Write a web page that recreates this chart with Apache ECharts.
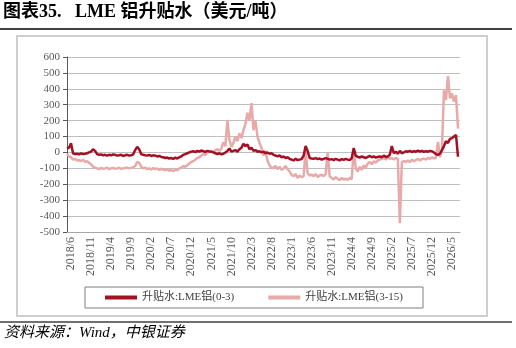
<!DOCTYPE html>
<html>
<head>
<meta charset="utf-8">
<script src="https://cdn.jsdelivr.net/npm/echarts@6/dist/echarts.min.js"></script>
<style>
  html, body { margin: 0; padding: 0; background: #fff; }
  #chart { width: 516px; height: 348px; }
</style>
</head>
<body>
<div id="chart"></div>
<script>
// half-month categories, 2018/5/1 .. 2026/7/1
var dates = [];
for (var y = 2018, m = 5; y < 2026 || m <= 6; ) {
  dates.push(y + '/' + m + '/1');
  dates.push(y + '/' + m + '/16');
  m++;
  if (m > 12) { m = 1; y++; }
}
dates.push('2026/7/1');

var yTicks = [-500, 600, 100]; // min, max, interval

// 升贴水:LME铝(0-3)
var spread03 = [
  25, 30, 58, -5, -10, -8, -12, -6, -10, -8, -5, 0,
  5, 20, 10, -10, -15, -12, -18, -15, -20, -15, -18, -12,
  -15, -20, -18, -15, -22, -18, -15, -20, -18, -12, 15, 35,
  20, -10, -15, -18, -20, -15, -22, -18, -20, -25, -22, -28,
  -30, -35, -32, -38, -35, -40, -33, -38, -30, -25, -15, -10,
  -5, 0, 5, 8, 2, 10, 5, 12, 8, 3, 10, 6,
  5, 0, -5, -10, -5, -12, -8, 0, 10, 25, 5, 10,
  15, 5, 20, 30, 55, 40, 50, 20, 30, 10, 15, 5,
  8, 0, 5, -5, 0, -8, -5, -15, -20, -25, -18, -30,
  -25, -35, -30, -40, -45, -50, -40, -48, -45, -42, -20, 40,
  10, -35, -38, -40, -36, -42, -38, -45, -40, -36, -40, -45,
  -42, -48, -40, -45, -50, -42, -46, -40, -45, -48, -35, 28,
  -20, -28, -32, -25, -30, -35, -28, -22, -30, -25, -32, -28,
  -25, -30, -20, -28, -25, -15, 40, -5, 5, -8, 10, -5,
  0, 8, 5, 10, 3, 8, 5, 12, 6, 10, 4, 8,
  5, 10, 8, 0, -10, -15, -8, 15, 40, 70, 60, 85,
  90, 100, 110, -27, null
];

// 升贴水:LME铝(3-15)
var spread315 = [
  -10, -25, -30, -45, -40, -50, -48, -55, -45, -60, -55, -65,
  -75, -90, -95, -100, -105, -98, -102, -100, -95, -105, -100, -98,
  -102, -100, -96, -104, -100, -98, -95, -100, -97, -92, -85, -60,
  -65, -90, -100, -95, -105, -100, -108, -98, -105, -100, -110, -102,
  -108, -112, -105, -115, -110, -118, -108, -112, -100, -95, -85, -90,
  -80, -70, -60, -55, -45, -35, -30, -20, -10, -15, 0, 5,
  10, 0, 15, 20, 10, 25, 65, 40, 200, 80, 35, 60,
  100, 70, 120, 90, 140, 180, 250, 200, 310, 140, 200, 100,
  60, 30, -20, 10, -50, -80, -100, -95, -85, -105, -90, -110,
  -100, -85, -105, -120, -140, -150, -135, -160, -145, -155, -150, 10,
  -130, -145, -140, -150, -135, -155, -145, -140, -150, -135, 0, -150,
  -160, -170, -155, -165, -175, -160, -170, -165, -172, -160, -168, 20,
  -100, -120, -90, -110, -80, -95, -70, -60, -75, -55, -65, -50,
  -45, -40, -35, -45, -30, -40, -35, -45, -35, -40, -445, -60,
  -55, -60, -50, -62, -45, -55, -48, -40, -50, -42, -38, -45,
  -35, -40, -30, -38, -32, 67, -30, 20, 390, 330, 480, 340,
  370, 320, 360, 150, null
];

var chart = echarts.init(document.getElementById('chart'));
var serif = '"Liberation Serif", "Noto Sans CJK SC", serif';

chart.setOption({
  animation: false,
  backgroundColor: '#fff',
  grid: { left: 67, right: 56, top: 57, bottom: 116 },
  graphic: [
    { type: 'text', left: 3, top: 3,
      style: { text: '图表35.   LME 铝升贴水（美元/吨）', font: 'bold 18px ' + serif, fill: '#000' } },
    { type: 'line', shape: { x1: 0, y1: 29, x2: 512, y2: 29 }, style: { stroke: '#000', lineWidth: 1.5 } },
    { type: 'rect', shape: { x: 17, y: 36, width: 470, height: 280 }, style: { fill: 'none', stroke: '#bfbfbf', lineWidth: 1.5 } },
    { type: 'line', shape: { x1: 0, y1: 322, x2: 512, y2: 322 }, style: { stroke: '#404040', lineWidth: 1.5 } },
    { type: 'text', left: 4, top: 326,
      style: { text: '资料来源：Wind，中银证券', font: 'italic 15px ' + serif, fill: '#000' } }
  ],
  legend: {
    data: ['升贴水:LME铝(0-3)', '升贴水:LME铝(3-15)'],
    left: 85, top: 287,
    padding: [5, 20],
    itemGap: 34,
    icon: 'rect', itemWidth: 32, itemHeight: 4,
    borderColor: '#7f7f7f', borderWidth: 1, borderRadius: 0,
    textStyle: { fontFamily: serif, fontSize: 11, color: '#404040' }
  },
  xAxis: {
    type: 'category',
    data: dates,
    boundaryGap: false,
    axisLine: { onZero: false, lineStyle: { color: '#a6a6a6' } },
    axisTick: { show: false },
    axisLabel: {
      interval: function (i) { return (i - 2) % 10 === 0; },
      rotate: 90,
      margin: 5,
      fontFamily: serif, fontSize: 12, color: '#595959',
      formatter: function (v) { var p = v.split('/'); return p[0] + '/' + p[1]; }
    },
    splitLine: { show: false }
  },
  yAxis: {
    type: 'value',
    min: yTicks[0], max: yTicks[1], interval: yTicks[2],
    axisLine: { show: true, lineStyle: { color: '#595959' } },
    axisTick: { show: true, length: 4, lineStyle: { color: '#595959' } },
    axisLabel: { fontFamily: serif, fontSize: 11, color: '#595959', margin: 7 },
    splitLine: { lineStyle: { color: '#bfbfbf', width: 1 } }
  },
  series: [
    { name: '升贴水:LME铝(0-3)', type: 'line', data: spread03, symbol: 'none', z: 3,
      itemStyle: { color: '#a50f24' }, lineStyle: { color: '#a50f24', width: 2.5 } },
    { name: '升贴水:LME铝(3-15)', type: 'line', data: spread315, symbol: 'none', z: 2,
      itemStyle: { color: '#e8a9a9' }, lineStyle: { color: '#e8a9a9', width: 2.5 } }
  ]
});
</script>
</body>
</html>
